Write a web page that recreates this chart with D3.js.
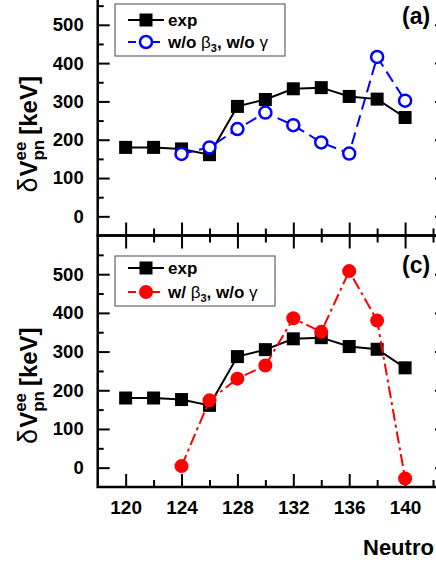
<!DOCTYPE html>
<html>
<head>
<meta charset="utf-8">
<script src="https://cdn.jsdelivr.net/npm/d3@7"></script>
<style>
  body { margin: 0; background: #fff; }
  svg { display: block; font-family: "Liberation Sans", Arial, sans-serif; font-weight: bold; }
</style>
</head>
<body>
<div id="chart"></div>
<script>
// Data (keV vs neutron number)
const neutronN = [120, 122, 124, 126, 128, 130, 132, 134, 136, 138, 140];
const expVals = [180, 180, 176, 161, 287, 305, 333, 336, 313, 306, 258];
const calcN = [124, 126, 128, 130, 132, 134, 136, 138, 140];
const noBeta3Vals = [163, 180, 228, 271, 238, 193, 164, 416, 302];
const withBeta3Vals = [4, 174, 230, 264, 386, 351, 508, 380, -28];
const xTickVals = [120, 124, 128, 132, 136, 140];
const xMinorVals = [122, 126, 130, 134, 138, 142];
const yTickVals = [0, 100, 200, 300, 400, 500];
const yMinorVals = [50, 150, 250, 350, 450, 550];

const W = 436, H = 564;
const x0 = 97.7, x1 = 447;

const svg = d3.select('#chart')
  .append('svg')
    .attr('width', W)
    .attr('height', H);

svg.append('rect').attr('width', W).attr('height', H).attr('fill', '#fff');

const x = d3.scaleLinear()
    .domain([118, 143])
    .range([x0, x1]);

function styleAxis(g) {
  g.select('.domain').remove();
  g.selectAll('.tick line').attr('stroke', '#000').attr('stroke-width', 2);
  g.selectAll('.tick text')
    .attr('fill', '#000')
    .attr('font-family', '"Liberation Sans", Arial, sans-serif')
    .attr('font-weight', 'bold');
}

function drawPanel(top, bottom, calcVals, opts) {
  const y = d3.scaleLinear()
      .domain([-50, 600])
      .range([bottom, top]);
  const g = svg.append('g');

  // left axis (labels) + minor
  g.append('g')
      .attr('transform', 'translate(' + x0 + ',0)')
      .call(d3.axisLeft(y).tickValues(yTickVals).tickSize(-12).tickPadding(14))
      .call(styleAxis)
      .selectAll('.tick text').attr('font-size', 18.5);
  g.append('g')
      .attr('transform', 'translate(' + x0 + ',0)')
      .call(d3.axisLeft(y).tickValues(yMinorVals).tickSize(-6).tickFormat(''))
      .call(styleAxis);

  // right axis, ticks only
  g.append('g')
      .attr('transform', 'translate(' + x1 + ',0)')
      .call(d3.axisRight(y).tickValues(yTickVals).tickSize(-12).tickFormat(''))
      .call(styleAxis);
  g.append('g')
      .attr('transform', 'translate(' + x1 + ',0)')
      .call(d3.axisRight(y).tickValues(yMinorVals).tickSize(-6).tickFormat(''))
      .call(styleAxis);

  // top axis, ticks only
  g.append('g')
      .attr('transform', 'translate(0,' + top + ')')
      .call(d3.axisTop(x).tickValues(xTickVals).tickSize(-13).tickFormat(''))
      .call(styleAxis);
  g.append('g')
      .attr('transform', 'translate(0,' + top + ')')
      .call(d3.axisTop(x).tickValues(xMinorVals).tickSize(-7).tickFormat(''))
      .call(styleAxis);

  // bottom axis
  const bottomAxis = d3.axisBottom(x).tickValues(xTickVals).tickSize(-13).tickPadding(14);
  if (!opts.xLabels) bottomAxis.tickFormat('');
  g.append('g')
      .attr('transform', 'translate(0,' + bottom + ')')
      .call(bottomAxis)
      .call(styleAxis)
      .selectAll('.tick text').attr('font-size', 19);
  g.append('g')
      .attr('transform', 'translate(0,' + bottom + ')')
      .call(d3.axisBottom(x).tickValues(xMinorVals).tickSize(-7).tickFormat(''))
      .call(styleAxis);

  // frame
  g.append('rect')
      .attr('x', x0).attr('y', top)
      .attr('width', x1 - x0).attr('height', bottom - top)
      .attr('fill', 'none').attr('stroke', '#000').attr('stroke-width', 2.5);

  const line = d3.line()
      .x(function(d) { return x(d[0]); })
      .y(function(d) { return y(d[1]); });

  const expData = neutronN.map(function(n, i) { return [n, expVals[i]]; });
  const calcData = calcN.map(function(n, i) { return [n, calcVals[i]]; });

  // exp series
  g.append('path')
      .datum(expData)
      .attr('d', line)
      .attr('fill', 'none').attr('stroke', '#000').attr('stroke-width', 2);
  g.selectAll('rect.exp')
      .data(expData)
      .enter()
      .append('rect')
        .attr('class', 'exp')
        .attr('x', function(d) { return x(d[0]) - 6.5; })
        .attr('y', function(d) { return y(d[1]) - 6.5; })
        .attr('width', 13).attr('height', 13)
        .attr('fill', '#000');

  // calculated series
  g.append('path')
      .datum(calcData)
      .attr('d', line)
      .attr('fill', 'none').attr('stroke', opts.color).attr('stroke-width', 2)
      .attr('stroke-dasharray', opts.dash);
  g.selectAll('circle.calc')
      .data(calcData)
      .enter()
      .append('circle')
        .attr('class', 'calc')
        .attr('cx', function(d) { return x(d[0]); })
        .attr('cy', function(d) { return y(d[1]); })
        .attr('r', opts.r)
        .attr('fill', opts.fill)
        .attr('stroke', opts.color)
        .attr('stroke-width', opts.open ? 2.5 : 0);

  // legend
  const lg = g.append('g').attr('transform', 'translate(115,' + opts.legendY + ')');
  lg.append('rect')
      .attr('width', opts.legendW).attr('height', opts.legendH)
      .attr('fill', '#fff').attr('stroke', '#666').attr('stroke-width', 1.2);
  const r1 = opts.rowY[0], r2 = opts.rowY[1];
  lg.append('line').attr('x1', 13).attr('x2', 49).attr('y1', r1).attr('y2', r1)
      .attr('stroke', '#000').attr('stroke-width', 2);
  lg.append('rect').attr('x', 24.5).attr('y', r1 - 6.5).attr('width', 13).attr('height', 13).attr('fill', '#000');
  lg.append('text').attr('x', 53).attr('y', r1 + 6).attr('font-size', 17).text('exp');
  lg.append('line').attr('x1', 13).attr('x2', 49).attr('y1', r2).attr('y2', r2)
      .attr('stroke', opts.color).attr('stroke-width', 2).attr('stroke-dasharray', opts.legendDash);
  lg.append('circle').attr('cx', 31).attr('cy', r2).attr('r', opts.r)
      .attr('fill', opts.fill).attr('stroke', opts.color).attr('stroke-width', opts.open ? 2.5 : 0);
  const lt = lg.append('text').attr('x', 53).attr('y', r2 + 6).attr('font-size', 17);
  lt.append('tspan').text(opts.legendPre);
  lt.append('tspan').attr('font-weight', 'normal').text('β');
  lt.append('tspan').attr('font-size', 11).attr('dy', 4).text('3');
  lt.append('tspan').attr('dy', -4).text(', w/o ');
  lt.append('tspan').attr('font-weight', 'normal').text('γ');

  // panel tag
  g.append('text')
      .attr('x', 402).attr('y', top + 37)
      .attr('font-size', 23)
      .text(opts.tag);

  // y axis title
  const yl = g.append('g')
      .attr('transform', 'translate(37,' + (y(0) - 82) + ') rotate(-90)');
  const yt = yl.append('text').attr('font-size', 24);
  yt.append('tspan').attr('font-weight', 'normal').attr('font-size', 27).text('δ');
  yt.append('tspan').attr('dx', 1).text('V');
  const sup = yt.append('tspan').attr('font-size', 17).attr('dy', -11).text('ee');
  const supW = sup.node().getComputedTextLength();
  yt.append('tspan').attr('font-size', 17).attr('dx', -supW).attr('dy', 18).text('pn');
  yt.append('tspan').attr('dx', 5).attr('dy', -7).text('[keV]');
  const bw = yt.node().getBBox().width;
  yt.attr('x', -bw / 2);
}

drawPanel(-13.5, 235.5, noBeta3Vals, {
  color: '#0000ff', fill: '#fff', open: true, r: 6,
  dash: '12,6', legendDash: '8,4',
  legendY: 4, legendW: 170, legendH: 52, rowY: [16, 38],
  legendPre: 'w/o ', tag: '(a)', xLabels: false
});

drawPanel(235.5, 487, withBeta3Vals, {
  color: '#ff0000', fill: '#ff0000', open: false, r: 7,
  dash: '12,4,3,4', legendDash: '8,4',
  legendY: 256, legendW: 160, legendH: 50, rowY: [12, 36],
  legendPre: 'w/ ', tag: '(c)', xLabels: true
});

// x axis title: only the part visible inside the figure's frame
svg.append('text')
    .attr('x', 363).attr('y', 555)
    .attr('font-size', 22)
    .text('Neutro');
</script>
</body>
</html>
